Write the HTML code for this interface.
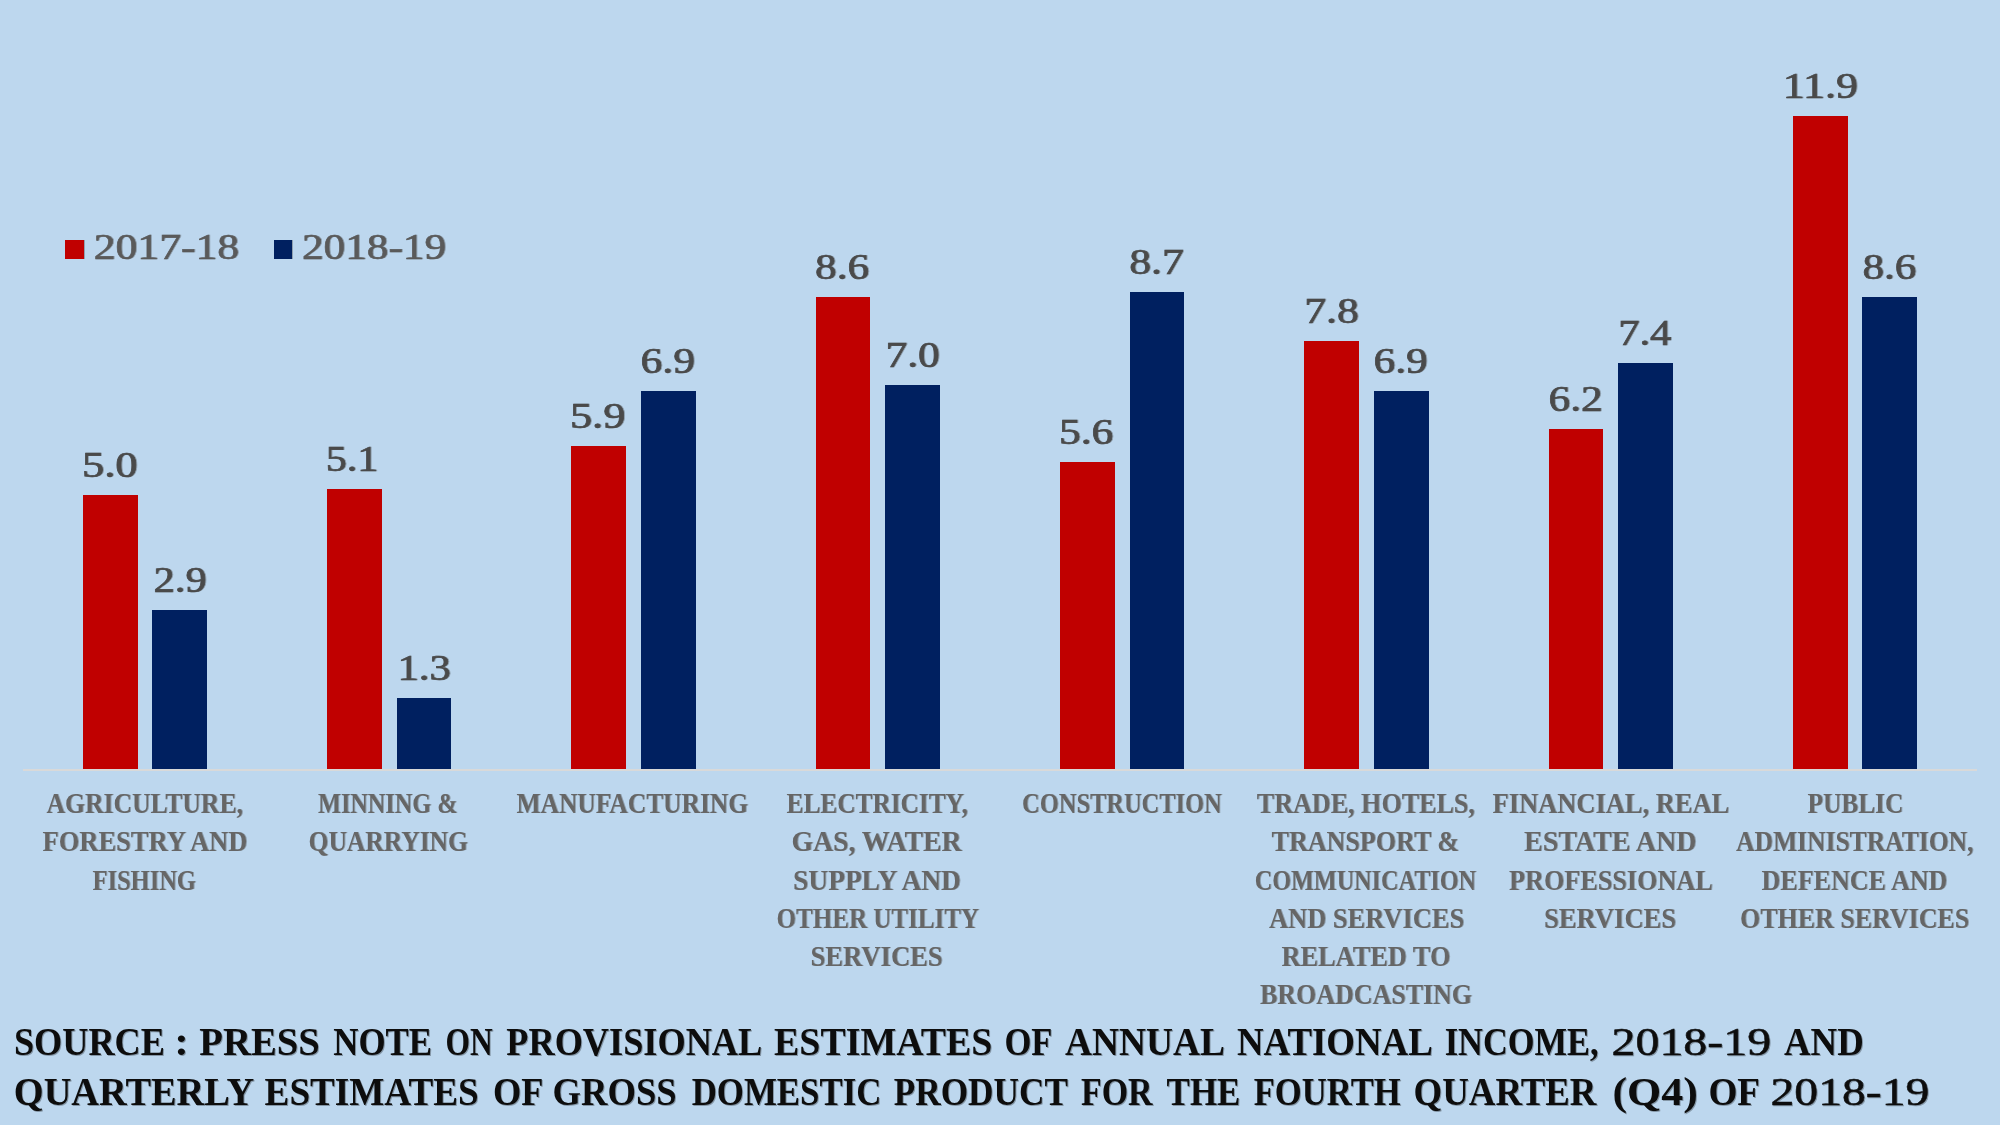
<!DOCTYPE html>
<html lang="en"><head><meta charset="utf-8"><title>GVA growth by sector</title>
<style>
html,body{margin:0;padding:0;background:#BDD7EE;}
body{width:2000px;height:1125px;overflow:hidden;}
svg{display:block}
text{font-family:"Liberation Serif",serif;}
.dl{font-size:36px;fill:#4a4a4a;stroke:#4a4a4a;stroke-width:0.7px;}
.lg{font-size:36px;fill:#5a5a5a;stroke:#5a5a5a;stroke-width:0.6px;}
.cat{font-size:28.5px;font-weight:bold;fill:#666666;}
.src{font-size:41px;font-weight:bold;fill:#0d0d0d;}
.num{font-size:39.5px;font-weight:normal;stroke:#0d0d0d;stroke-width:0.5px;}
</style></head><body>
<svg width="2000" height="1125" viewBox="0 0 2000 1125">
<rect width="2000" height="1125" fill="#BDD7EE"/>
<rect x="23" y="769" width="1954" height="2" fill="#D9D9D9"/>

<g id="bars">
<rect x="83" y="495" width="55" height="274" fill="#C00000"/>
<rect x="152" y="610" width="55" height="159" fill="#002060"/>
<rect x="327" y="489" width="55" height="280" fill="#C00000"/>
<rect x="397" y="698" width="54" height="71" fill="#002060"/>
<rect x="571" y="446" width="55" height="323" fill="#C00000"/>
<rect x="641" y="391" width="55" height="378" fill="#002060"/>
<rect x="816" y="297" width="54" height="472" fill="#C00000"/>
<rect x="885" y="385" width="55" height="384" fill="#002060"/>
<rect x="1060" y="462" width="55" height="307" fill="#C00000"/>
<rect x="1130" y="292" width="54" height="477" fill="#002060"/>
<rect x="1304" y="341" width="55" height="428" fill="#C00000"/>
<rect x="1374" y="391" width="55" height="378" fill="#002060"/>
<rect x="1549" y="429" width="54" height="340" fill="#C00000"/>
<rect x="1618" y="363" width="55" height="406" fill="#002060"/>
<rect x="1793" y="116" width="55" height="653" fill="#C00000"/>
<rect x="1862" y="297" width="55" height="472" fill="#002060"/>
</g>
<g id="data-labels" style="filter:drop-shadow(1px 0.8px 0 rgba(60,60,60,.35))">
<text class="dl" x="81.9" y="476.6" textLength="55.8" lengthAdjust="spacingAndGlyphs">5.0</text>
<text class="dl" x="153.6" y="591.6" textLength="53.0" lengthAdjust="spacingAndGlyphs">2.9</text>
<text class="dl" x="325.8" y="470.6" textLength="52.6" lengthAdjust="spacingAndGlyphs">5.1</text>
<text class="dl" x="397.5" y="679.6" textLength="53.3" lengthAdjust="spacingAndGlyphs">1.3</text>
<text class="dl" x="569.9" y="427.6" textLength="55.4" lengthAdjust="spacingAndGlyphs">5.9</text>
<text class="dl" x="640.6" y="372.6" textLength="54.4" lengthAdjust="spacingAndGlyphs">6.9</text>
<text class="dl" x="815.1" y="278.6" textLength="54.1" lengthAdjust="spacingAndGlyphs">8.6</text>
<text class="dl" x="885.5" y="366.6" textLength="54.3" lengthAdjust="spacingAndGlyphs">7.0</text>
<text class="dl" x="1058.9" y="443.6" textLength="54.4" lengthAdjust="spacingAndGlyphs">5.6</text>
<text class="dl" x="1129.3" y="273.6" textLength="54.5" lengthAdjust="spacingAndGlyphs">8.7</text>
<text class="dl" x="1304.2" y="322.6" textLength="54.6" lengthAdjust="spacingAndGlyphs">7.8</text>
<text class="dl" x="1373.6" y="372.6" textLength="54.2" lengthAdjust="spacingAndGlyphs">6.9</text>
<text class="dl" x="1548.6" y="410.6" textLength="54.1" lengthAdjust="spacingAndGlyphs">6.2</text>
<text class="dl" x="1618.2" y="344.6" textLength="53.0" lengthAdjust="spacingAndGlyphs">7.4</text>
<text class="dl" x="1782.8" y="97.6" textLength="75.1" lengthAdjust="spacingAndGlyphs">11.9</text>
<text class="dl" x="1862.4" y="278.6" textLength="53.9" lengthAdjust="spacingAndGlyphs">8.6</text>
</g>
<g id="legend" style="filter:drop-shadow(1px 0.8px 0 rgba(60,60,60,.35))">
<rect x="65" y="240" width="19" height="19" fill="#C00000"/>
<text class="lg" x="93.7" y="259" textLength="145.5" lengthAdjust="spacingAndGlyphs">2017-18</text>
<rect x="274" y="240" width="18" height="19" fill="#002060"/>
<text class="lg" x="302.0" y="259" textLength="144.0" lengthAdjust="spacingAndGlyphs">2018-19</text>
</g>
<g id="categories" style="filter:drop-shadow(1px 0.8px 0 rgba(70,70,70,.38))">
<text class="cat" x="46.5" y="813.0" textLength="196.4" lengthAdjust="spacingAndGlyphs">AGRICULTURE,</text>
<text class="cat" x="42.5" y="851.3" textLength="204.8" lengthAdjust="spacingAndGlyphs">FORESTRY AND</text>
<text class="cat" x="92.5" y="889.5" textLength="103.4" lengthAdjust="spacingAndGlyphs">FISHING</text>
<text class="cat" x="318.0" y="813.0" textLength="139.4" lengthAdjust="spacingAndGlyphs">MINNING &amp;</text>
<text class="cat" x="308.6" y="851.3" textLength="159.3" lengthAdjust="spacingAndGlyphs">QUARRYING</text>
<text class="cat" x="516.5" y="813.0" textLength="231.5" lengthAdjust="spacingAndGlyphs">MANUFACTURING</text>
<text class="cat" x="786.5" y="813.0" textLength="181.4" lengthAdjust="spacingAndGlyphs">ELECTRICITY,</text>
<text class="cat" x="791.5" y="851.3" textLength="169.9" lengthAdjust="spacingAndGlyphs">GAS, WATER</text>
<text class="cat" x="793.1" y="889.5" textLength="167.8" lengthAdjust="spacingAndGlyphs">SUPPLY AND</text>
<text class="cat" x="776.6" y="927.8" textLength="202.3" lengthAdjust="spacingAndGlyphs">OTHER UTILITY</text>
<text class="cat" x="810.6" y="966.0" textLength="132.0" lengthAdjust="spacingAndGlyphs">SERVICES</text>
<text class="cat" x="1022.1" y="813.0" textLength="199.6" lengthAdjust="spacingAndGlyphs">CONSTRUCTION</text>
<text class="cat" x="1256.8" y="813.0" textLength="218.1" lengthAdjust="spacingAndGlyphs">TRADE, HOTELS,</text>
<text class="cat" x="1271.5" y="851.3" textLength="187.5" lengthAdjust="spacingAndGlyphs">TRANSPORT &amp;</text>
<text class="cat" x="1254.7" y="889.5" textLength="221.3" lengthAdjust="spacingAndGlyphs">COMMUNICATION</text>
<text class="cat" x="1269.0" y="927.8" textLength="195.1" lengthAdjust="spacingAndGlyphs">AND SERVICES</text>
<text class="cat" x="1281.5" y="966.0" textLength="168.9" lengthAdjust="spacingAndGlyphs">RELATED TO</text>
<text class="cat" x="1260.0" y="1004.3" textLength="212.0" lengthAdjust="spacingAndGlyphs">BROADCASTING</text>
<text class="cat" x="1492.5" y="813.0" textLength="236.7" lengthAdjust="spacingAndGlyphs">FINANCIAL, REAL</text>
<text class="cat" x="1524.0" y="851.3" textLength="172.4" lengthAdjust="spacingAndGlyphs">ESTATE AND</text>
<text class="cat" x="1509.0" y="889.5" textLength="203.7" lengthAdjust="spacingAndGlyphs">PROFESSIONAL</text>
<text class="cat" x="1544.1" y="927.8" textLength="132.0" lengthAdjust="spacingAndGlyphs">SERVICES</text>
<text class="cat" x="1807.5" y="813.0" textLength="95.7" lengthAdjust="spacingAndGlyphs">PUBLIC</text>
<text class="cat" x="1736.0" y="851.3" textLength="237.4" lengthAdjust="spacingAndGlyphs">ADMINISTRATION,</text>
<text class="cat" x="1761.5" y="889.5" textLength="185.8" lengthAdjust="spacingAndGlyphs">DEFENCE AND</text>
<text class="cat" x="1740.1" y="927.8" textLength="229.0" lengthAdjust="spacingAndGlyphs">OTHER SERVICES</text>
</g>
<g id="source" style="filter:drop-shadow(1.5px 1px 0 rgba(0,0,0,.30))">
<text class="src" y="1055.3"><tspan x="13.9" textLength="151.1" lengthAdjust="spacingAndGlyphs">SOURCE</tspan> <tspan x="174.3" textLength="14.6" lengthAdjust="spacingAndGlyphs">:</tspan> <tspan x="199.3" textLength="120.5" lengthAdjust="spacingAndGlyphs">PRESS</tspan> <tspan x="333.3" textLength="98.8" lengthAdjust="spacingAndGlyphs">NOTE</tspan> <tspan x="445.5" textLength="47.2" lengthAdjust="spacingAndGlyphs">ON</tspan> <tspan x="506.3" textLength="253.9" lengthAdjust="spacingAndGlyphs">PROVISIONAL</tspan> <tspan x="774.1" textLength="218.2" lengthAdjust="spacingAndGlyphs">ESTIMATES</tspan> <tspan x="1004.4" textLength="46.7" lengthAdjust="spacingAndGlyphs">OF</tspan> <tspan x="1065.0" textLength="158.0" lengthAdjust="spacingAndGlyphs">ANNUAL</tspan> <tspan x="1237.0" textLength="193.7" lengthAdjust="spacingAndGlyphs">NATIONAL</tspan> <tspan x="1444.7" textLength="153.8" lengthAdjust="spacingAndGlyphs">INCOME,</tspan> <tspan class="num" x="1611.6" textLength="159.5" lengthAdjust="spacingAndGlyphs">2018-19</tspan> <tspan x="1784.0" textLength="79.7" lengthAdjust="spacingAndGlyphs">AND</tspan></text>
<text class="src" y="1105"><tspan x="13.8" textLength="238.9" lengthAdjust="spacingAndGlyphs">QUARTERLY</tspan> <tspan x="264.6" textLength="214.1" lengthAdjust="spacingAndGlyphs">ESTIMATES</tspan> <tspan x="493.1" textLength="49.1" lengthAdjust="spacingAndGlyphs">OF</tspan> <tspan x="552.6" textLength="124.1" lengthAdjust="spacingAndGlyphs">GROSS</tspan> <tspan x="691.7" textLength="189.8" lengthAdjust="spacingAndGlyphs">DOMESTIC</tspan> <tspan x="893.7" textLength="173.6" lengthAdjust="spacingAndGlyphs">PRODUCT</tspan> <tspan x="1081.0" textLength="71.6" lengthAdjust="spacingAndGlyphs">FOR</tspan> <tspan x="1166.6" textLength="73.8" lengthAdjust="spacingAndGlyphs">THE</tspan> <tspan x="1253.7" textLength="147.0" lengthAdjust="spacingAndGlyphs">FOURTH</tspan> <tspan x="1413.5" textLength="183.0" lengthAdjust="spacingAndGlyphs">QUARTER</tspan> <tspan x="1612.4" textLength="85.5" lengthAdjust="spacingAndGlyphs">(Q4)</tspan> <tspan x="1708.4" textLength="50.3" lengthAdjust="spacingAndGlyphs">OF</tspan> <tspan class="num" x="1770.5" textLength="158.8" lengthAdjust="spacingAndGlyphs">2018-19</tspan></text>
</g>
</svg></body></html>
